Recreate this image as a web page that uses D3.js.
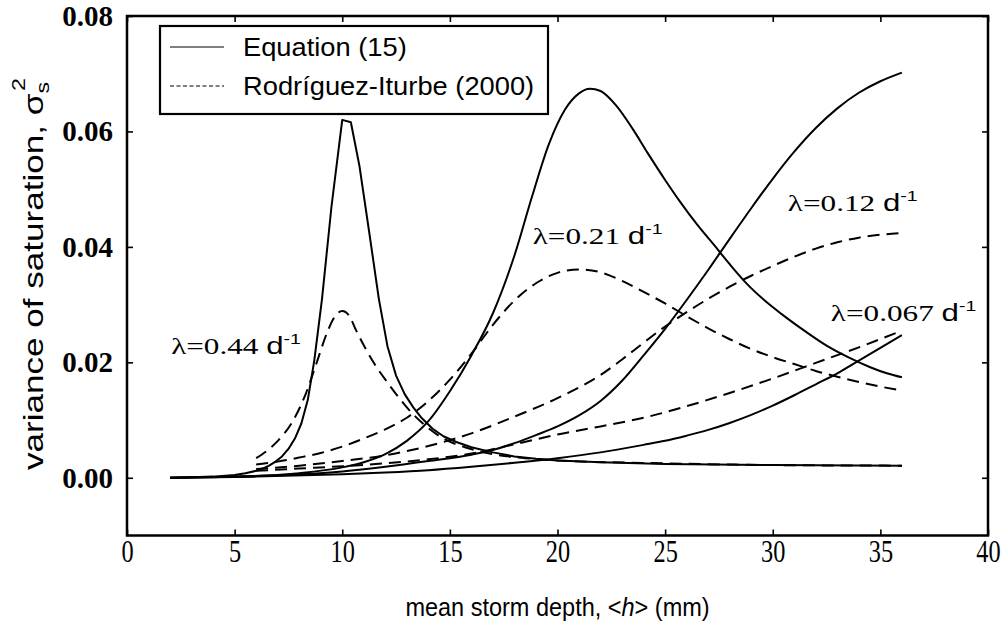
<!DOCTYPE html>
<html><head><meta charset="utf-8">
<script src="https://cdn.jsdelivr.net/npm/d3@7"></script>
<style>body{margin:0;background:#fff}svg{display:block}</style>
</head><body>
<svg id="c" width="1007" height="627"></svg>
<script>
// ---- data (h in mm, variance of saturation) ----
const xTicks = [0, 5, 10, 15, 20, 25, 30, 35, 40];
const yTicks = [0, 0.02, 0.04, 0.06, 0.08];
const legendLabels = ["Equation (15)", "Rodríguez-Iturbe (2000)"];

// lambda = 0.44 d^-1
const eq044 = [[2,0],[3,0.0001],[4,0.0002],[5,0.0005],[5.5,0.0008],[6,0.0012],[6.3,0.0016],[6.6,0.0021],[6.9,0.0028],[7.2,0.0037],[7.5,0.005],[7.8,0.0068],[8.1,0.0094],[8.4,0.0135],[8.7,0.0203],[9.06,0.031],[9.5,0.047],[10.0,0.062],[10.4,0.0616],[10.8,0.054],[11.25,0.0426],[11.7,0.031],[12.1,0.0228],[12.5,0.0177],[12.9,0.0145],[13.3,0.0122],[13.7,0.0103],[14.2,0.0085],[14.7,0.0072],[15.3,0.0062],[16,0.0053],[17,0.0044],[18,0.0037],[19,0.0033],[20,0.003],[22,0.0027],[25,0.0024],[30,0.0022],[36,0.0021]];
const ri044 = [[6,0.0034],[6.9,0.006],[7.7,0.0098],[8.3,0.0145],[8.8,0.0198],[9.3,0.0252],[9.65,0.0279],[10.0,0.0289],[10.3,0.0282],[10.65,0.0255],[11.4,0.0203],[12.2,0.016],[13.0,0.0122],[13.9,0.0089],[14.8,0.0066],[15.7,0.0053],[17,0.0041],[18.5,0.0034],[20,0.003],[25,0.0025],[30,0.0022],[36,0.0021]];
// lambda = 0.21 d^-1
const eq021 = [[2,0],[4,0.0001],[6,0.0003],[8,0.0008],[10,0.0018],[11,0.0027],[12,0.0041],[13,0.0064],[14,0.0098],[15,0.015],[16,0.0212],[17,0.0285],[18,0.0385],[18.8,0.0485],[19.6,0.0578],[20.35,0.0638],[21,0.0666],[21.5,0.0674],[22,0.067],[22.7,0.0646],[23.5,0.0604],[24.2,0.0562],[25,0.0516],[25.7,0.0478],[26.5,0.0438],[27.3,0.0402],[28,0.037],[28.8,0.0336],[29.6,0.0308],[30.4,0.0284],[31.5,0.0254],[32.5,0.0229],[33.5,0.0209],[34.5,0.0192],[35.3,0.0181],[36,0.0174]];
const ri021 = [[6,0.0023],[7,0.0028],[8,0.0035],[9,0.0043],[10,0.0054],[11,0.0068],[12,0.0084],[13,0.0104],[14,0.0133],[15,0.017],[16,0.0215],[17,0.0265],[18,0.0307],[19,0.0337],[20,0.0355],[21,0.0361],[22,0.0356],[23,0.0341],[24,0.0322],[25,0.0302],[26,0.028],[27,0.0259],[28,0.024],[29,0.0223],[30,0.0209],[31,0.0197],[32,0.0185],[33,0.0175],[34,0.0166],[35,0.0158],[36,0.0151]];
// lambda = 0.12 d^-1
const eq012 = [[2,0],[5,0.0002],[8,0.0006],[10,0.0011],[12,0.0019],[14,0.0029],[16,0.004],[17,0.0048],[18,0.006],[19,0.0074],[20,0.0089],[21,0.0108],[22,0.0133],[23,0.0168],[24,0.0212],[25,0.0258],[26,0.0308],[27,0.036],[28,0.0414],[29,0.0467],[30,0.0518],[31,0.0565],[32,0.0606],[33,0.064],[34,0.0667],[35,0.0687],[36,0.0702]];
const ri012 = [[6,0.0015],[8,0.0021],[10,0.0029],[12,0.0039],[14,0.0055],[16,0.0077],[18,0.0106],[20,0.0138],[22,0.0178],[23,0.0205],[24,0.0234],[25,0.0262],[26,0.0287],[27,0.031],[28,0.0331],[29,0.035],[30,0.0367],[31,0.0383],[32,0.0397],[33,0.0408],[34,0.0416],[35,0.0421],[36,0.0424]];
// lambda = 0.067 d^-1
const eq067 = [[2,0],[6,0.0002],[10,0.0006],[12,0.0009],[14,0.0013],[16,0.0019],[18,0.0026],[20,0.0034],[22,0.0044],[24,0.0057],[25,0.0064],[26,0.0073],[27,0.0083],[28,0.0095],[29,0.0109],[30,0.0125],[31,0.0143],[32,0.0162],[33,0.0181],[34,0.0203],[35,0.0225],[36,0.0247]];
const ri067 = [[6,0.0012],[8,0.0016],[10,0.002],[12,0.0025],[14,0.0032],[16,0.0042],[18,0.0058],[20,0.0075],[22,0.0089],[24,0.0104],[26,0.0124],[28,0.0147],[30,0.0172],[32,0.0199],[34,0.0226],[36,0.0255]];

const lambdaLabels = ["0.44", "0.21", "0.12", "0.067"];
const lambdaAnchorH = [2.05, 18.85, 30.7, 32.7];
const lambdaAnchorV = [0.0214, 0.0405, 0.0462, 0.0272];

// ---- drawing ----
const svg = d3.select("#c");
const x = d3.scaleLinear().domain([0, 40]).range([127, 988]);
const y = d3.scaleLinear().domain([-0.01, 0.08]).range([535.5, 16]);

const series = [
  {d: eq044, dash: false, c: d3.curveLinear}, {d: ri044, dash: true},
  {d: eq021, dash: false}, {d: ri021, dash: true},
  {d: eq012, dash: false}, {d: ri012, dash: true},
  {d: eq067, dash: false}, {d: ri067, dash: true}
];
const lineFor = s => d3.line().x(p => x(p[0])).y(p => y(p[1])).curve(s.c || d3.curveMonotoneX)(s.d);

svg.append("g").selectAll("path").data(series).join("path")
  .attr("d", lineFor)
  .attr("fill", "none").attr("stroke", "#000")
  .attr("stroke-width", 2).attr("stroke-linejoin", "round")
  .attr("stroke-dasharray", s => s.dash ? "12,7" : null);

const serif = "Liberation Serif, Times New Roman, serif";
const sans = "Liberation Sans, Arial, sans-serif";

// axes (ticks inward on all sides)
const styleAxis = g => { g.select(".domain").remove(); g.selectAll(".tick line").attr("stroke", "#000").attr("stroke-width", 1.6); };
svg.append("g").attr("transform", `translate(0,${y(-0.01)})`)
  .call(d3.axisBottom(x).tickValues(xTicks).tickSize(-6).tickPadding(4).tickFormat(d3.format("d")))
  .call(styleAxis)
  .call(g => g.selectAll("text").attr("font-family", serif).attr("font-size", 32)
    .attr("transform", "scale(0.76,1)").attr("fill", "#000"));
svg.append("g").attr("transform", `translate(0,${y(0.08)})`)
  .call(d3.axisTop(x).tickValues(xTicks).tickSize(-6).tickFormat(""))
  .call(styleAxis);
svg.append("g").attr("transform", `translate(${x(0)},0)`)
  .call(d3.axisLeft(y).tickValues(yTicks).tickSize(-6).tickPadding(14).tickFormat(d3.format(".2f")))
  .call(styleAxis)
  .call(g => g.selectAll("text").attr("font-family", serif).attr("font-weight", "bold").attr("font-size", 29).attr("fill", "#000"));
svg.append("g").attr("transform", `translate(${x(40)},0)`)
  .call(d3.axisRight(y).tickValues(yTicks).tickSize(-6).tickFormat(""))
  .call(styleAxis);

// frame
svg.append("rect").attr("x", x(0)).attr("y", y(0.08))
  .attr("width", x(40) - x(0)).attr("height", y(-0.01) - y(0.08))
  .attr("fill", "none").attr("stroke", "#000").attr("stroke-width", 2.5);

// axis titles
const xt = svg.append("text").attr("transform", `translate(${(x(0) + x(40)) / 2},616) scale(0.94,1)`)
  .attr("text-anchor", "middle").attr("font-family", sans).attr("font-size", 25);
xt.append("tspan").text("mean storm depth, <");
xt.append("tspan").attr("font-style", "italic").text("h");
xt.append("tspan").text("> (mm)");

const yt = svg.append("text").attr("transform", "translate(43,274) rotate(-90) scale(1.3,1)")
  .attr("text-anchor", "middle").attr("font-family", sans).attr("font-size", 27);
yt.append("tspan").text("variance of saturation, σ");
yt.append("tspan").attr("font-size", 18).attr("dy", 6).text("s");
yt.append("tspan").attr("font-size", 18).attr("dx", -7).attr("dy", -24).text("2");

// legend
const lg = svg.append("g");
lg.append("rect").attr("x", 160).attr("y", 26).attr("width", 388).attr("height", 88)
  .attr("fill", "#fff").attr("stroke", "#000").attr("stroke-width", 2.2);
legendLabels.forEach((t, i) => {
  const yy = 47 + i * 39;
  lg.append("line").attr("x1", 170).attr("x2", 224).attr("y1", yy).attr("y2", yy)
    .attr("stroke", "#000").attr("stroke-width", 1.2).attr("stroke-dasharray", i ? "4,2.5" : null);
  lg.append("text").attr("transform", `translate(243,${yy + 9}) scale(1.05,1)`)
    .attr("font-family", sans).attr("font-size", 26).text(t);
});

// lambda labels
lambdaLabels.forEach((lab, i) => {
  const g = svg.append("g").attr("transform", `translate(${x(lambdaAnchorH[i])},${y(lambdaAnchorV[i])}) scale(1.3,1)`);
  const t = g.append("text").attr("font-size", 24).attr("font-family", serif);
  t.append("tspan").text("λ=" + lab + " ");
  t.append("tspan").attr("font-family", sans).text("d");
  t.append("tspan").attr("font-family", sans).attr("font-size", 15).attr("dy", -10).text("-1");
});
</script>
</body></html>
